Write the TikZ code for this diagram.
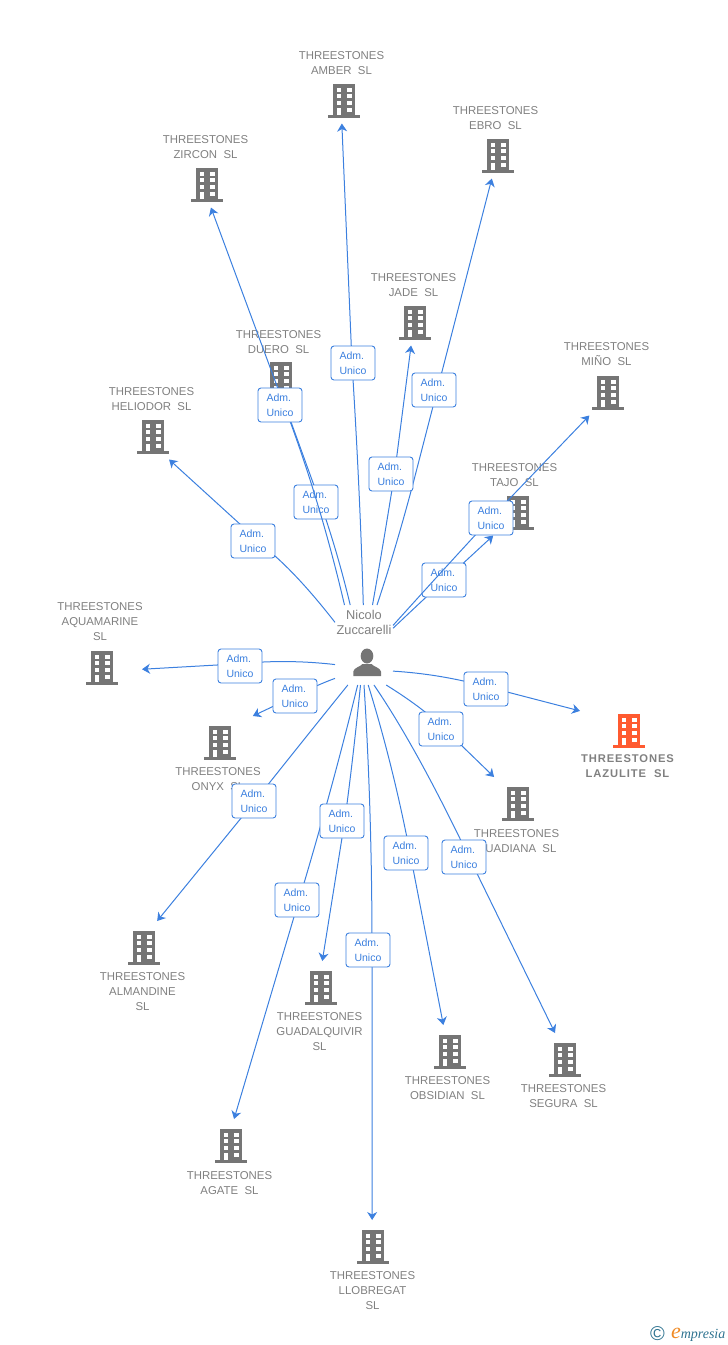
\documentclass[tikz,border=0pt]{standalone}
\usepackage{fontspec}
\setmainfont{Liberation Sans}
\newfontfamily\logofont{Liberation Serif}
\usetikzlibrary{arrows.meta,calc}
\definecolor{linkblue}{HTML}{3C80DF}
\definecolor{bldggray}{HTML}{757575}
\definecolor{textgray}{HTML}{808080}
\definecolor{bldgorange}{HTML}{FF5A30}
\definecolor{logoteal}{HTML}{2F7390}
\definecolor{logoorange}{HTML}{F08A24}

\begin{document}
\begin{tikzpicture}[
    x=1pt,y=-1pt,
    every node/.style={
        inner sep=0pt,
        outer sep=0pt,
    },
    target/.style={
        rectangle,
        minimum width=80pt,
        minimum height=49.5pt,
    },
    title/.style={
        align=center,
        text=textgray,
        font=\fontsize{11.4}{15}\selectfont,
    },
    adm/.style={
        draw=linkblue,
        fill=white,
        line width=.9pt,
        rectangle,
        rounded corners=3pt,
        minimum width=44pt,
        minimum height=34pt,
        align=left,
        text=linkblue,
        font=\fontsize{10.5}{15}\selectfont,
    },
    link/.style={
        draw=linkblue,
        line width=1pt,
        -{Stealth[length=8pt,width=10pt,inset=2.5pt]},
    },
]
    \useasboundingbox (0,0) rectangle (728,1345);
    \newcommand\bldg[2]{
        \begin{scope}[shift={(#1.center)},shift={(0,1.25)}]
            \fill[#2] (-11,-16.5) rectangle (11,15);
            \fill[#2] (-16,15) rectangle (16,17.5);
            \foreach \wy in {-12.3,-5.7,1,7.7}{
                \fill[white] (2.7,\wy) rectangle (7.6,\wy+4);
            }
            \foreach \wy in {-12.3,-5.7,1}{
                \fill[white] (-7.3,\wy) rectangle (-2.7,\wy+4);
            }
            \fill[white] (-7.3,7.7) rectangle (-2.7,15);
        \end{scope}
    }
    \newcommand\conn[6]{
        \draw[link] (person.#2) .. controls ($(person.#2)!.667!(#3)$) and ($(#4)!.667!(#3)$) .. (#4) -- (#1.#5);
        \node[adm] (#1 adm) at (#6) {Adm.\\Unico};
    }

    % ~~~ companies ~~~~~~~~~~~~~~~~~~~~~~~~~~~~~~~~~~~~~~~~~~~~~~
    \foreach \nm/\x/\y/\tx/\ty/\txt in {%
        amber/344/100/341.5/63/{THREESTONES\\AMBER\ \ SL},
        ebro/498/155/495.5/118/{THREESTONES\\EBRO\ \ SL},
        zircon/207/184/205.5/147/{THREESTONES\\ZIRCON\ \ SL},
        jade/415/322/413.5/285/{THREESTONES\\JADE\ \ SL},
        duero/281/378/278.5/342/{THREESTONES\\DUERO\ \ SL},
        mino/608/392/606.5/354/{THREESTONES\\MIÑO\ \ SL},
        heliodor/153/436/151.5/399/{THREESTONES\\HELIODOR\ \ SL},
        tajo/518/512/514.5/475/{THREESTONES\\TAJO\ \ SL},
        aquamarine/102/667/100/621.5/{THREESTONES\\AQUAMARINE\\SL},
        onyx/220/742/218/779/{THREESTONES\\ONYX\ \ SL},
        guadiana/518/803/516.5/841/{THREESTONES\\GUADIANA\ \ SL},
        almandine/144/947/142.5/991.5/{THREESTONES\\ALMANDINE\\SL},
        guadalquivir/321/987/319.5/1031.5/{THREESTONES\\GUADALQUIVIR\\SL},
        obsidian/450/1051/447.5/1088/{THREESTONES\\OBSIDIAN\ \ SL},
        segura/565/1059/563.5/1096/{THREESTONES\\SEGURA\ \ SL},
        agate/231/1145/229.5/1183/{THREESTONES\\AGATE\ \ SL},
        llobregat/373/1246/372.5/1290.5/{THREESTONES\\LLOBREGAT\\SL}%no comma after
    }{
        \node[target] (\nm) at (\x,\y-1.25) {};
        \bldg{\nm}{bldggray};
        \node[title] (\nm title) at (\tx,\ty) {\txt};
    }
    \node[target,minimum width=98pt] (lazulite) at (629,728.75) {};
    \bldg{lazulite}{bldgorange};
    \node[title,font=\fontsize{11.2}{15}\selectfont\bfseries\addfontfeature{LetterSpace=8}]
        (lazulite title) at (627.5,766) {THREESTONES\\LAZULITE\ \ SL};

    % ~~~ person ~~~~~~~~~~~~~~~~~~~~~~~~~~~~~~~~~~~~~~~~~~~~~~~~~
    \node[rectangle,minimum width=58pt,minimum height=80pt] (person) at (364,645) {};
    \node[title,font=\fontsize{12.8}{15}\selectfont] (person title) at (364,622.5) {Nicolo\\Zuccarelli};
    \fill[bldggray] (367,656) circle[x radius=6.3,y radius=7.5];
    \fill[bldggray] (353.3,676) -- (353.3,671.5) .. controls (354,667.5) and (360,667) .. (362.5,664)
        -- (371.5,664) .. controls (374,667) and (380,667.5) .. (381,671.5) -- (381,676) -- cycle;

    % ~~~ links, one after the other so that they overlap in this order ~~~~~~
    \conn{amber}{91}{360,490}{352,363}{265.3}{353,363};
    \conn{ebro}{72}{396,548}{414,480}{256.1}{434,390};
    \conn{jade}{78.7}{384,540}{394.5,474}{261}{391,474};
    \conn{duero}{109.3}{337,550}{320,502}{276.5}{316,502};
    \conn{zircon}{116}{320,500}{284,405}{279.4}{280,405};
    \conn{heliodor}{142.8}{302,580}{275,556}{303.9}{253,541};
    \conn{tajo}{30.4}{443,581}{444,581}{225.3}{444,580};
    \conn{mino}{34.6}{442,571}{491,518}{233.4}{491,518};
    \conn{aquamarine}{214.6}{287,659}{240,663.7}{355.5}{240,666};
    \conn{onyx}{229.5}{317,685}{295,696}{37.4}{295,696};
    \conn{almandine}{248.2}{301,743}{255,801}{62.7}{254,801};
    \conn{agate}{261.5}{332,790}{299,900}{83}{297,900};
    \conn{guadalquivir}{265.7}{353,760}{344.7,821}{87.7}{342,821};
    \conn{llobregat}{270}{372,810}{372,950}{92.3}{368,950};
    \conn{obsidian}{276.1}{393,765}{410,853}{105.8}{406,853};
    \conn{segura}{284}{415,745}{466,851}{112}{464,857};
    \conn{guadiana}{299.6}{420,706}{441,725.6}{134.1}{441,729};
    \conn{lazulite}{318}{440,674}{486,686.5}{160.1}{486,689};

    % ~~~ logo ~~~~~~~~~~~~~~~~~~~~~~~~~~~~~~~~~~~~~~~~~~~~~~~~~~~
    \node[text=logoteal,font=\fontsize{20}{20}\selectfont] (copyright) at (657.5,1333.5) {©};
    \node[anchor=base west,text=logoteal,font=\logofont\itshape\fontsize{14}{14}\selectfont]
        (logo) at (671,1338) {{\color{logoorange}\fontsize{22}{22}\selectfont e}mpresia};
\end{tikzpicture}
\end{document}
